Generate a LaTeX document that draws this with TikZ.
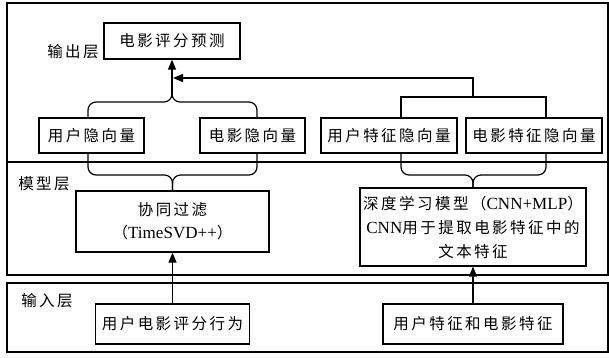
\documentclass[tikz,border=0pt]{standalone}
\usepackage{fontspec}
\setmainfont[Scale=1.1]{Liberation Serif}
\newfontfamily\cjk[LetterSpace=16]{Noto Sans CJK SC}
\usetikzlibrary{arrows.meta,positioning,calc}
\newcommand{\zh}[1]{{\cjk #1}}

\begin{document}
\begin{tikzpicture}[x=1pt,y=-1pt,
  box/.style={draw,line width=1.2pt,inner sep=0pt,align=center,font=\fontsize{15.5}{23}\selectfont},
  layer/.style={draw,line width=1.2pt},
  lbl/.style={font=\fontsize{15.5}{18}\selectfont},
  arr/.style={-{Triangle[length=10pt,width=8pt]},line width=1.2pt},
  brace/.style={line width=1.2pt,rounded corners=8pt},
  link/.style={line width=1.2pt}
]
\useasboundingbox (0,0) rectangle (609,357);
% layers
\draw[layer] (7,3) rectangle (608,162);
\draw[layer] (7,162) rectangle (608,275);
\draw[layer] (7,283) rectangle (608,352);
\node[lbl] (outlbl) at (73,52) {\zh{输出层}};
\node[lbl] (modlbl) at (44,184) {\zh{模型层}};
\node[lbl] (inlbl) at (47,301) {\zh{输入层}};
% boxes
\node[box,minimum width=136pt,minimum height=36pt] (pred) at (172,41) {\zh{电影评分预测}};
\node[box,minimum width=105pt,minimum height=35pt] (uvec) at (91.5,135.5) {\zh{用户隐向量}};
\node[box,minimum width=105pt,minimum height=35pt] (mvec) at (252.5,135.5) {\zh{电影隐向量}};
\node[box,minimum width=136pt,minimum height=35pt] (ufvec) at (389,135.5) {\zh{用户特征隐向量}};
\node[box,minimum width=136pt,minimum height=35pt] (mfvec) at (534,135.5) {\zh{电影特征隐向量}};
\node[box,minimum width=193pt,minimum height=61pt] (cf) at (172.5,221.5) {\zh{协同过滤}\\\zh{（}TimeSVD++\zh{）}};
\node[box,minimum width=226pt,minimum height=78pt,font=\fontsize{15.5}{24}\selectfont] (dl) at (473,227) {\zh{深度学习模型（}CNN+MLP\zh{）}\\CNN\zh{用于提取电影特征中的}\\\zh{文本特征}};
\node[box,minimum width=154pt,minimum height=40pt] (urate) at (172.5,324) {\zh{用户电影评分行为}};
\node[box,minimum width=180pt,minimum height=40pt] (feat) at (473,324) {\zh{用户特征和电影特征}};
% helper points
\coordinate (topcusp) at (172,102);
\coordinate (cfcusp) at (172.5,175);
\coordinate (dlcusp) at (473,175);
\coordinate (fjoin) at (473,97);
\coordinate (ftip) at (173,78);
% input arrows
\draw[arr] (urate.north) -- (cf.south);
\draw[arr] (feat.north) -- (dl.south);
% braces
\draw[brace] ($(uvec.north)+(-3.5,0)$) |- (topcusp) -- ++(0,-12);
\draw[brace] ($(mvec.north)+(4.5,0)$) |- (topcusp) -- ++(0,-12);
\draw[arr] ($(topcusp)+(0,-8)$) -- (pred.south);
\draw[brace] ($(uvec.south)+(-3.5,0)$) |- (cfcusp) -- (cf.north);
\draw[brace] ($(mvec.south)+(4.5,0)$) |- (cfcusp) -- (cf.north);
\draw[brace] ($(ufvec.south)+(12,0)$) |- (dlcusp) -- (dl.north);
\draw[brace] ($(mfvec.south)+(12,0)$) |- (dlcusp) -- (dl.north);
% feature vectors to prediction
\draw[link] ($(ufvec.north)+(12,0)$) |- (fjoin) -| ($(mfvec.north)+(12,0)$);
\draw[arr] (fjoin) |- (ftip);
\end{tikzpicture}
\end{document}
